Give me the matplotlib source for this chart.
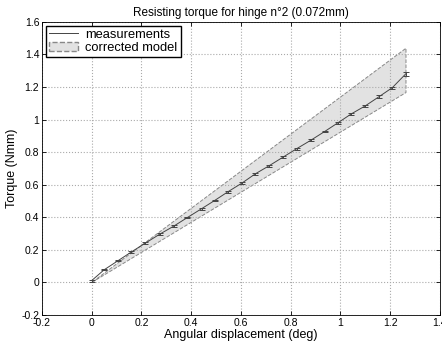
import matplotlib
matplotlib.use('Agg')
from matplotlib import pyplot as plt
from matplotlib.patches import Patch
from matplotlib.lines import Line2D

plt.rcParams['font.family'] = ['Liberation Sans', 'DejaVu Sans']

# measured torque (Nmm) vs angular displacement (deg)
angle = [0, 0.05, 0.107, 0.16, 0.216, 0.274, 0.33, 0.385, 0.443, 0.494,
         0.549, 0.604, 0.658, 0.715, 0.769, 0.825, 0.88, 0.937, 0.992,
         1.044, 1.10, 1.156, 1.209, 1.264]
torque = [0.012, 0.078, 0.135, 0.188, 0.242, 0.297, 0.346, 0.399, 0.454,
          0.503, 0.558, 0.61, 0.667, 0.718, 0.769, 0.822, 0.872, 0.927,
          0.982, 1.035, 1.084, 1.141, 1.196, 1.282]
torque_err = [0.006, 0.004, 0.004, 0.004, 0.005, 0.005, 0.005, 0.005, 0.006,
              0.005, 0.006, 0.006, 0.006, 0.006, 0.006, 0.006, 0.006, 0.006,
              0.006, 0.007, 0.006, 0.007, 0.007, 0.013]

# corrected model envelope
model_x = [0, 1.264]
model_lo = [0, 1.166]
model_hi = [0, 1.438]

fig = plt.figure(figsize=(4.42, 3.47), dpi=100)
ax = fig.add_axes([0.095, 0.092, 0.9, 0.845])

ax.fill(model_x + model_x[::-1], model_lo + model_hi[::-1],
        facecolor='#e2e2e2', edgecolor='#888888', linestyle='--', linewidth=0.7)

ax.errorbar(angle, torque, yerr=torque_err, color='#444444', linewidth=0.7,
            elinewidth=0.7, capsize=2.5, capthick=0.7)

ax.set_xlim(-0.2, 1.4)
ax.set_ylim(-0.2, 1.6)
ax.set_xticks([-0.2, 0, 0.2, 0.4, 0.6, 0.8, 1, 1.2, 1.4])
ax.set_xticklabels(['-0.2', '0', '0.2', '0.4', '0.6', '0.8', '1', '1.2', '1.4'])
ax.set_yticks([-0.2, 0, 0.2, 0.4, 0.6, 0.8, 1, 1.2, 1.4, 1.6])
ax.set_yticklabels(['-0.2', '0', '0.2', '0.4', '0.6', '0.8', '1', '1.2', '1.4', '1.6'])
ax.tick_params(direction='in', length=3, labelsize=7.5, top=True, right=True,
               width=0.6, pad=2)
ax.grid(True, linestyle=':', color='#aaaaaa', linewidth=0.8)
for s in ax.spines.values():
    s.set_linewidth(0.6)

ax.set_title('Resisting torque for hinge n°2 (0.072mm)', fontsize=8.5, pad=4)
ax.set_xlabel('Angular displacement (deg)', fontsize=9, labelpad=1)
ax.set_ylabel('Torque (Nmm)', fontsize=9, labelpad=2)

handles = [Line2D([], [], color='#444444', linewidth=0.7),
           Patch(facecolor='#e2e2e2', edgecolor='#888888', linestyle='--')]
ax.legend(handles, ['measurements', 'corrected model'], loc='upper left',
          fontsize=9.3, frameon=True, fancybox=False, edgecolor='black',
          framealpha=1, borderaxespad=0.3, handlelength=2.2, labelspacing=0.05,
          borderpad=0.25, handletextpad=0.6)

fig.savefig('out.png', dpi=100)
